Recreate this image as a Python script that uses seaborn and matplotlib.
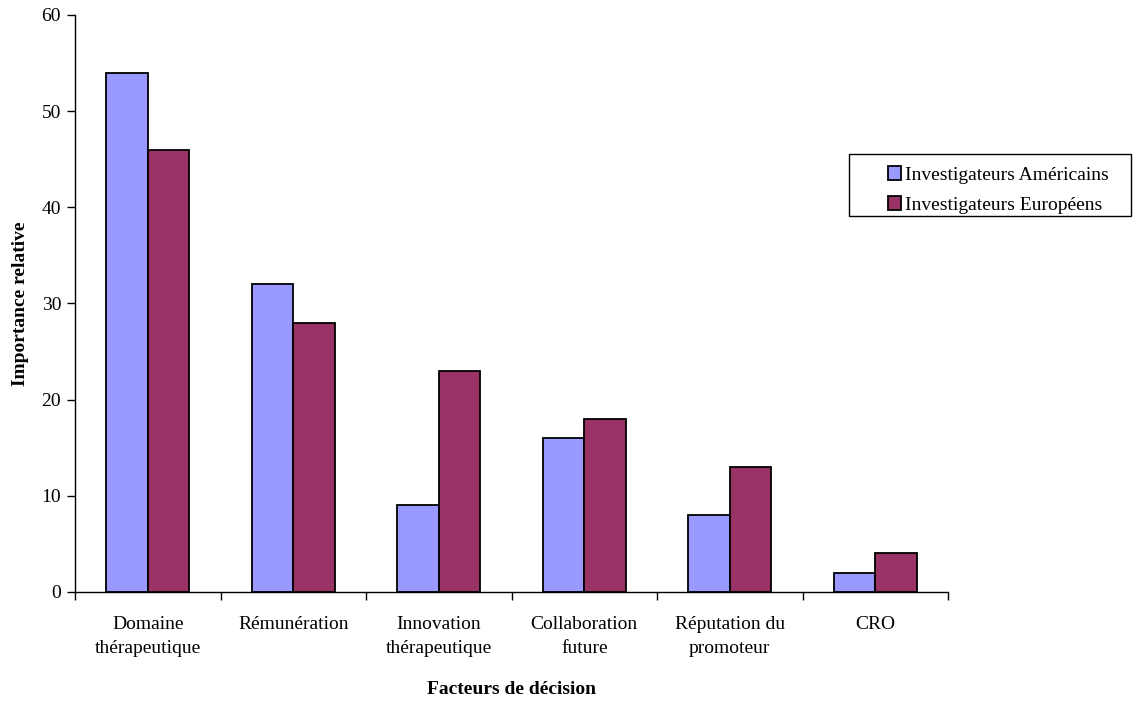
import pandas as pd
import seaborn as sns
import matplotlib.pyplot as plt
from matplotlib.patches import Rectangle

# Données
facteurs = ["Domaine\nthérapeutique", "Rémunération", "Innovation\nthérapeutique",
            "Collaboration\nfuture", "Réputation du\npromoteur", "CRO"]
americains = [54, 32, 9, 16, 8, 2]
europeens = [46, 28, 23, 18, 13, 4]
series = ["Investigateurs Américains", "Investigateurs Européens"]
couleurs = ["#9999FF", "#993366"]

df = pd.DataFrame({
    "facteur": facteurs * 2,
    "valeur": americains + europeens,
    "groupe": [series[0]] * len(facteurs) + [series[1]] * len(facteurs),
})

sns.set_style("white")
plt.rcParams["font.family"] = ["Liberation Serif", "DejaVu Serif"]
for k in ["text.color", "axes.labelcolor", "xtick.color", "ytick.color"]:
    plt.rcParams[k] = "black"

fig = plt.figure(figsize=(11.45, 7.03), dpi=100)
ax = fig.add_axes([0.0655, 0.158, 0.7625, 0.8207])

sns.barplot(data=df, x="facteur", y="valeur", hue="groupe", palette=couleurs,
            width=0.57, edgecolor="black", linewidth=1.3, saturation=1, ax=ax)

ax.set_xlim(-0.5, len(facteurs) - 0.5)
ax.set_ylim(0, 60)
ax.set_yticks(range(0, 61, 10))
ax.tick_params(axis="y", labelsize=14, length=6, width=1, direction="out", left=True, pad=4)

# graduations de l'axe x entre les catégories
ax.set_xticks(range(len(facteurs)))
ax.set_xticklabels(facteurs, fontsize=14)
for lab in ax.get_xticklabels():
    lab.set_linespacing(1.6)
ax.tick_params(axis="x", which="major", length=0, pad=17)
ax.set_xticks([i - 0.5 for i in range(len(facteurs) + 1)], minor=True)
ax.tick_params(axis="x", which="minor", length=6, width=1, direction="out", bottom=True)

for s in ["top", "right"]:
    ax.spines[s].set_visible(False)
for s in ["left", "bottom"]:
    ax.spines[s].set_color("black")
    ax.spines[s].set_linewidth(1)

ax.set_xlabel("Facteurs de décision", fontsize=14, fontweight="bold", labelpad=17)
ax.set_ylabel("Importance relative", fontsize=14, fontweight="bold", labelpad=9)

# légende sans cadre + cadre dessiné à part (marge gauche plus large)
ax.legend(loc="center left", bbox_to_anchor=(0.7668, 0.7298), bbox_transform=fig.transFigure,
          fontsize=14, frameon=False, handlelength=0.7, handleheight=0.7,
          handletextpad=0.2, borderpad=0, labelspacing=0.65)
fig.patches.append(Rectangle((0.7415, 0.6927), 0.2463, 0.0882, transform=fig.transFigure,
                             fill=False, edgecolor="black", linewidth=1))

fig.savefig("out.png", dpi=100)
